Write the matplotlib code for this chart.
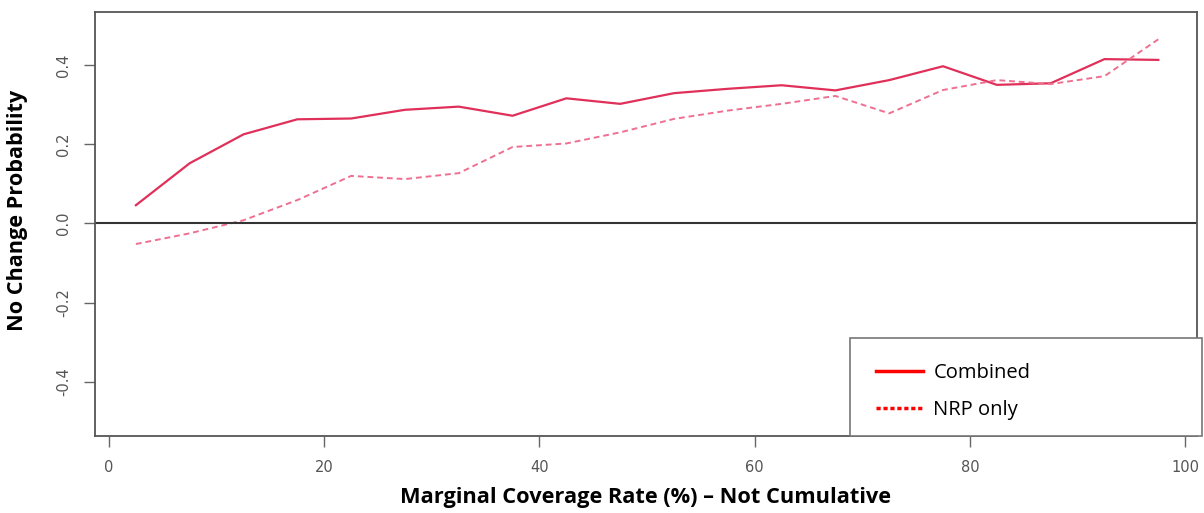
import numpy as np
import matplotlib.pyplot as plt
from matplotlib.patches import Rectangle
from matplotlib.lines import Line2D

# marginal coverage rate bins (midpoints, %)
coverage = [2.5, 7.5, 12.5, 17.5, 22.5, 27.5, 32.5, 37.5, 42.5, 47.5,
            52.5, 57.5, 62.5, 67.5, 72.5, 77.5, 82.5, 87.5, 92.5, 97.5]
combined = [0.046, 0.152, 0.225, 0.263, 0.265, 0.287, 0.295, 0.272, 0.316, 0.302,
            0.329, 0.340, 0.349, 0.336, 0.362, 0.397, 0.350, 0.354, 0.415, 0.413]
nrp_only = [-0.052, -0.025, 0.008, 0.059, 0.120, 0.112, 0.127, 0.193, 0.202, 0.230,
            0.264, 0.285, 0.302, 0.322, 0.278, 0.337, 0.362, 0.352, 0.372, 0.465]
x_ticks = [0, 20, 40, 60, 80, 100]
y_ticks = [-0.4, -0.2, 0.0, 0.2, 0.4]

fig = plt.figure(figsize=(12.04, 5.13), dpi=100)
ax = fig.add_axes([0.0789, 0.150, 0.9153, 0.8266])

ax.plot(coverage, combined, color='#e0305a', lw=1.6)
ax.plot(coverage, nrp_only, color='#ee7090', lw=1.4, ls=(0, (3, 2)))
ax.axhline(0, color='#333333', lw=1.5)

ax.set_xlim(-1.3, 101.1)
ax.set_ylim(-0.537, 0.534)
ax.set_xticks(x_ticks)
ax.set_xticklabels([str(t) for t in x_ticks])
ax.set_yticks(y_ticks)
ax.set_yticklabels(['%.1f' % t for t in y_ticks], rotation=90, va='center')
ax.tick_params(axis='both', direction='out', length=8, width=1, color='#666666',
               labelcolor='#555555', labelsize=10.5, pad=9)
for s in ax.spines.values():
    s.set_color('#555555')
    s.set_linewidth(1.3)

# axis titles placed in figure coords
fig.text(646 / 1204, 1 - 498 / 513, 'Marginal Coverage Rate (%) \u2013 Not Cumulative',
         fontsize=15.7, fontweight='bold', family='Open Sans', ha='center', va='center')
fig.text(18 / 1204, 1 - 210 / 513, 'No Change Probability', rotation=90,
         fontsize=15.6, fontweight='bold', family='Open Sans', ha='center', va='center')

# legend box in lower right
fig.patches.append(Rectangle((850 / 1204, 77 / 513), 352 / 1204, 98 / 513,
                             transform=fig.transFigure, facecolor='white',
                             edgecolor='#777777', lw=1.2, zorder=5))
handles = [Line2D([], [], color='red', lw=2.5),
           Line2D([], [], color='red', lw=2.5, ls=(0, (1.2, 0.8)))]
fig.legend(handles, ['Combined', 'NRP only'], loc='upper left',
           bbox_to_anchor=(876 / 1204, 1 - 363 / 513), frameon=False,
           prop={'family': 'Open Sans', 'size': 14.5}, handlelength=2.35,
           handletextpad=0.5, labelspacing=0.85, borderpad=0, borderaxespad=0)

fig.savefig('out.png', dpi=100)
